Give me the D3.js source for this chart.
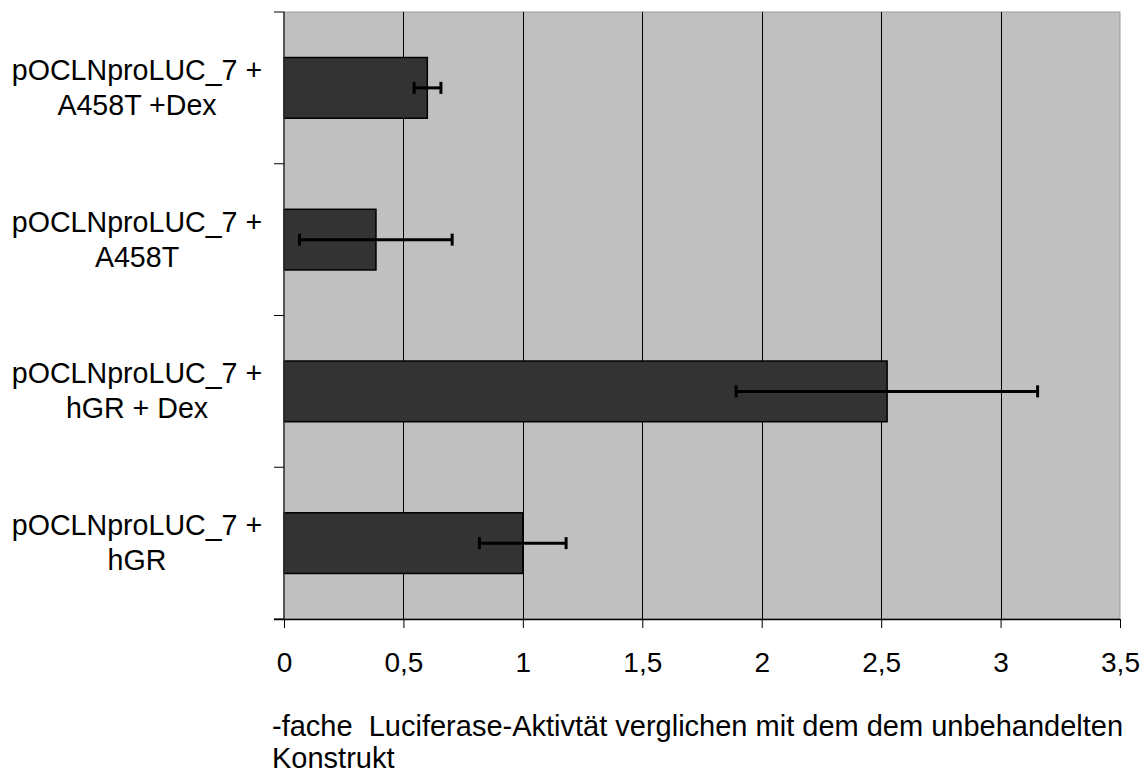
<!DOCTYPE html>
<html>
<head>
<meta charset="utf-8">
<script src="https://cdn.jsdelivr.net/npm/d3@7"></script>
<style>
  body { margin: 0; background: #fff; }
  text { font-family: "Liberation Sans", Arial, sans-serif; fill: #000; }
</style>
</head>
<body>
<div id="chart"></div>
<script>
// categories, top to bottom
const categories = [
    ["pOCLNproLUC_7 +", "A458T +Dex"],
    ["pOCLNproLUC_7 +", "A458T"],
    ["pOCLNproLUC_7 +", "hGR + Dex"],
    ["pOCLNproLUC_7 +", "hGR"]
];
const values = [0.60, 0.385, 2.525, 1.0];
const errLow = [0.545, 0.065, 1.893, 0.818];
const errHigh = [0.657, 0.704, 3.155, 1.181];
const xTicks = [0, 0.5, 1, 1.5, 2, 2.5, 3, 3.5];
const xTitle = ["-fache  Luciferase-Aktivtät verglichen mit dem dem unbehandelten", "Konstrukt"];

const width = 1147, height = 776;
const plot = { left: 284, top: 12, right: 1120, bottom: 619 };

const svg = d3.select("#chart").append("svg")
    .attr("width", width)
    .attr("height", height);

const x = d3.scaleLinear().domain([0, 3.5]).range([plot.left, plot.right]);
const y = d3.scaleBand().domain(d3.range(categories.length)).range([plot.top, plot.bottom]).paddingInner(0.6).paddingOuter(0.3);
const yOuter = d3.scaleBand().domain(d3.range(categories.length)).range([plot.top, plot.bottom]);

// plot background
svg.append("rect")
    .attr("x", plot.left).attr("y", plot.top)
    .attr("width", plot.right - plot.left).attr("height", plot.bottom - plot.top)
    .attr("fill", "#c0c0c0")
    .attr("stroke", "#999").attr("stroke-width", 1);

// vertical gridlines
svg.append("g")
    .selectAll("line")
    .data(xTicks.slice(1, -1))
    .join("line")
        .attr("x1", d => Math.round(x(d)) + 0.5).attr("x2", d => Math.round(x(d)) + 0.5)
        .attr("y1", plot.top).attr("y2", plot.bottom)
        .attr("stroke", "#000").attr("stroke-width", 1);

// bars
svg.append("g")
    .selectAll("rect")
    .data(values)
    .join("rect")
        .attr("x", x(0))
        .attr("y", (d, i) => y(i))
        .attr("width", d => x(d) - x(0))
        .attr("height", y.bandwidth())
        .attr("fill", "#333333")
        .attr("stroke", "#000").attr("stroke-width", 1.5);

// error bars
const err = svg.append("g").attr("stroke", "#000").attr("stroke-width", 3);
values.forEach((v, i) => {
    const cy = y(i) + y.bandwidth() / 2;
    err.append("line")
        .attr("x1", x(errLow[i])).attr("x2", x(errHigh[i]))
        .attr("y1", cy).attr("y2", cy);
    [errLow[i], errHigh[i]].forEach(e => {
        err.append("line")
            .attr("x1", x(e)).attr("x2", x(e))
            .attr("y1", cy - 6).attr("y2", cy + 6);
    });
});

// left axis line + ticks
svg.append("line")
    .attr("x1", plot.left).attr("x2", plot.left)
    .attr("y1", plot.top).attr("y2", plot.bottom)
    .attr("stroke", "#333").attr("stroke-width", 1.5);
svg.append("g")
    .selectAll("line")
    .data(d3.range(categories.length + 1))
    .join("line")
        .attr("x1", plot.left - 10).attr("x2", plot.left)
        .attr("y1", d => d < categories.length ? yOuter(d) : plot.bottom)
        .attr("y2", d => d < categories.length ? yOuter(d) : plot.bottom)
        .attr("stroke", "#000").attr("stroke-width", 1);

// bottom axis
const xAxis = svg.append("g")
    .attr("transform", `translate(0,${plot.bottom})`)
    .call(d3.axisBottom(x).tickValues(xTicks).tickSize(9).tickPadding(24)
        .tickFormat(d => String(d).replace(".", ",")));
xAxis.select(".domain").attr("stroke", "#000").attr("stroke-width", 1.5)
    .attr("d", `M${plot.left - 10},0.5H${plot.right}`);
xAxis.selectAll(".tick line").attr("stroke", "#000");
xAxis.selectAll(".tick text")
    .attr("font-size", 28)
    .attr("dy", null)
    .attr("y", 53)
    .style("font-family", "'Liberation Sans', Arial, sans-serif");

// category labels
const labels = svg.append("g");
categories.forEach((lines, i) => {
    const cy = yOuter(i) + yOuter.bandwidth() / 2;
    const t = labels.append("text")
        .attr("text-anchor", "middle")
        .attr("font-size", 28.6);
    lines.forEach((ln, j) => {
        t.append("tspan")
            .attr("x", 137)
            .attr("y", cy - 8 + j * 35)
            .text(ln);
    });
});

// x axis title
const title = svg.append("text")
    .attr("font-size", 29)
    .style("white-space", "pre");
xTitle.forEach((ln, j) => {
    title.append("tspan")
        .attr("x", 272)
        .attr("y", 736 + j * 32)
        .text(ln);
});
</script>
</body>
</html>
